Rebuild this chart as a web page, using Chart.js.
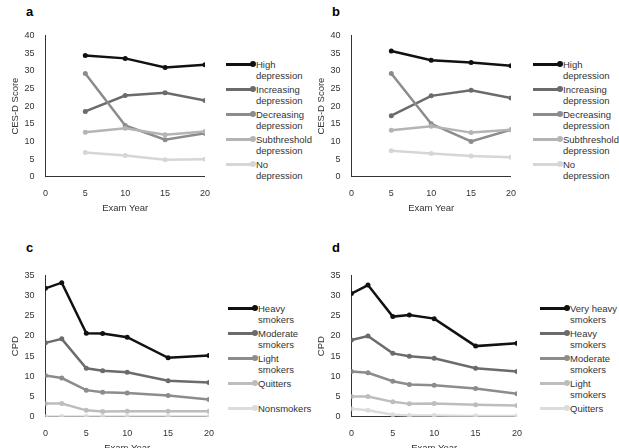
<!DOCTYPE html>
<html><head><meta charset="utf-8">
<script src="https://cdn.jsdelivr.net/npm/chart.js@4"></script>
<style>
body{margin:0;background:#fff;font-family:"Liberation Sans",Arial,sans-serif;}
.p{position:absolute;}
.lab{position:absolute;font-weight:bold;font-size:13px;}
.leg{position:absolute;font-size:9.5px;color:#333;line-height:11px;}
.leg div{position:relative;padding-left:30px;height:25px;}
.leg span.sw{position:absolute;left:0;top:4px;width:28px;height:3px;}
.leg span.sw:after{content:"";position:absolute;right:-2px;top:-2px;width:6px;height:6px;border-radius:3px;background:inherit;}
</style></head><body>
<div class="lab" style="left:26px;top:4px">a</div>
<div class="lab" style="left:332px;top:4px">b</div>
<div class="lab" style="left:26px;top:240px">c</div>
<div class="lab" style="left:332px;top:240px">d</div>
<div class="p" style="left:10px;top:27px;width:203px;height:188px"><canvas id="ca"></canvas></div>
<div class="p" style="left:316px;top:27px;width:203px;height:188px"><canvas id="cb"></canvas></div>
<div class="p" style="left:10px;top:267px;width:207px;height:188px"><canvas id="cc"></canvas></div>
<div class="p" style="left:316px;top:267px;width:209px;height:188px"><canvas id="cd"></canvas></div>
<div class="leg" id="la" style="left:226px;top:59px"></div>
<div class="leg" id="lb" style="left:533px;top:59px"></div>
<div class="leg" id="lc" style="left:228px;top:303px"></div>
<div class="leg" id="ld" style="left:540px;top:303px"></div>
<script>
const depYears = [5, 10, 15, 20];
const depLabels = [['High','depression'],['Increasing','depression'],['Decreasing','depression'],['Subthreshold','depression'],['No','depression']];
const depColors = ['#111111','#6b6b6b','#8c8c8c','#b4b4b4','#d6d6d6'];
const depA = [
  [34.3, 33.5, 30.9, 31.7],
  [18.5, 23.0, 23.8, 21.6],
  [29.2, 14.5, 10.5, 12.3],
  [12.6, 13.7, 11.9, 12.8],
  [6.9, 6.0, 4.8, 5.0]
];
const depB = [
  [35.6, 33.0, 32.3, 31.4],
  [17.3, 22.9, 24.5, 22.3],
  [29.2, 15.0, 10.0, 13.3],
  [13.2, 14.3, 12.5, 13.3],
  [7.4, 6.6, 5.9, 5.5]
];
const smkYears = [0, 2, 5, 7, 10, 15, 20];
const smkLabelsC = [['Heavy','smokers'],['Moderate','smokers'],['Light','smokers'],['Quitters'],['Nonsmokers']];
const smkLabelsD = [['Very heavy','smokers'],['Heavy','smokers'],['Moderate','smokers'],['Light','smokers'],['Quitters']];
const smkColors = ['#111111','#6b6b6b','#8c8c8c','#bdbdbd','#dcdcdc'];
const smkC = [
  [31.8, 33.2, 20.7, 20.6, 19.7, 14.6, 15.2],
  [18.3, 19.3, 12.0, 11.4, 11.0, 8.9, 8.5],
  [10.2, 9.6, 6.6, 6.1, 5.9, 5.3, 4.3],
  [3.3, 3.3, 1.6, 1.3, 1.4, 1.4, 1.4],
  [0.1, 0.1, 0.1, 0.1, 0.1, 0.1, 0.1]
];
const smkD = [
  [30.5, 32.6, 24.8, 25.2, 24.3, 17.5, 18.2],
  [19.0, 20.0, 15.7, 15.0, 14.5, 12.0, 11.2],
  [11.2, 10.9, 8.8, 8.0, 7.8, 7.0, 5.7],
  [5.0, 5.0, 3.7, 3.2, 3.3, 3.0, 2.8],
  [2.0, 1.6, 0.5, 0.3, 0.3, 0.2, 0.2]
];

Chart.defaults.font.family = '"Liberation Sans", Arial, sans-serif';
Chart.defaults.font.size = 9;
Chart.defaults.color = '#333';

function makeChart(id, xs, series, colors, yMax, yTitle) {
  new Chart(document.getElementById(id), {
    type: 'line',
    data: { datasets: series.map((s, i) => ({
      data: s.map((v, j) => ({ x: xs[j], y: v })),
      borderColor: colors[i], backgroundColor: colors[i],
      borderWidth: 2.5, pointRadius: 2.5, pointBorderWidth: 0, tension: 0
    })).reverse() },
    options: {
      responsive: true, maintainAspectRatio: false, animation: false,
      plugins: { legend: { display: false }, tooltip: { enabled: false } },
      scales: {
        x: { type: 'linear', min: 0, max: 20, ticks: { stepSize: 5 },
             grid: { display: false }, border: { color: '#333' },
             title: { display: true, text: 'Exam Year', font: { size: 9.5 }, padding: 1 } },
        y: { min: 0, max: yMax, ticks: { stepSize: 5 },
             grid: { display: false }, border: { color: '#333' },
             title: { display: true, text: yTitle, font: { size: 9.5 }, padding: 0 } }
      }
    }
  });
}
function makeLegend(id, labels, colors) {
  const el = document.getElementById(id);
  labels.forEach((l, i) => {
    const d = document.createElement('div');
    d.innerHTML = '<span class="sw" style="background:' + colors[i] + '"></span>' + l.join('<br>');
    el.appendChild(d);
  });
}
makeChart('ca', depYears, depA, depColors, 40, 'CES-D Score');
makeChart('cb', depYears, depB, depColors, 40, 'CES-D Score');
makeChart('cc', smkYears, smkC, smkColors, 35, 'CPD');
makeChart('cd', smkYears, smkD, smkColors, 35, 'CPD');
makeLegend('la', depLabels, depColors);
makeLegend('lb', depLabels, depColors);
makeLegend('lc', smkLabelsC, smkColors);
makeLegend('ld', smkLabelsD, smkColors);
</script>
</body></html>
